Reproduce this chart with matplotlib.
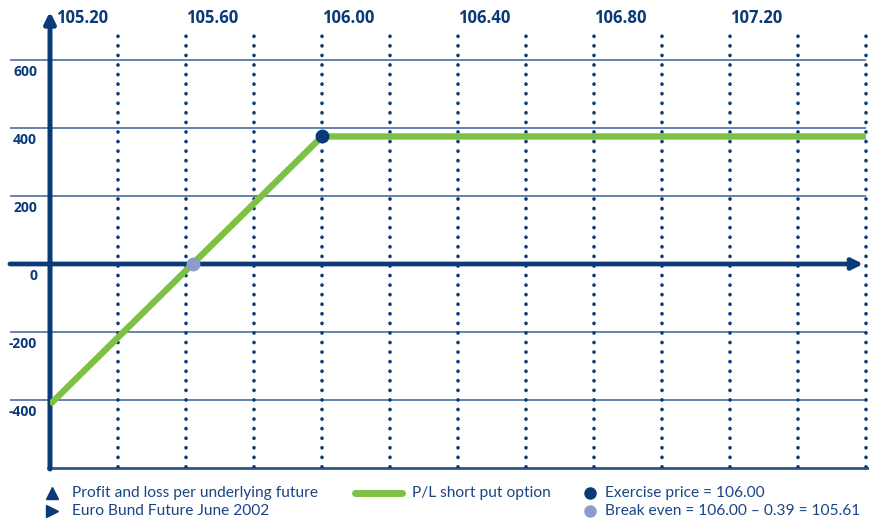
import matplotlib
matplotlib.use("Agg")
import matplotlib.pyplot as plt
from matplotlib.lines import Line2D
import numpy as np

# data
pl_x = [105.20, 106.00, 107.60]
pl_y = [-413, 375, 375]
exercise = (106.00, 375)
break_even = (105.62, 0)
x_ticks = [105.20, 105.60, 106.00, 106.40, 106.80, 107.20]
x_dotted = np.round(np.arange(105.40, 107.61, 0.20), 2)
y_grid = [600, 400, 200, -200, -400]
y_labels = [600, 400, 200, 0, -200, -400]

navy = "#0b3a78"
text_c = "#1a4585"
grid_c = "#5a78a6"
green = "#7bc143"
light = "#8f9cc9"

fig = plt.figure(figsize=(8.69, 5.21), dpi=100)
ax = fig.add_axes([50 / 869, 53 / 521, 819 / 869, 458 / 521])
ax.set_xlim(105.2, 107.609)
ax.set_ylim(-600, 747)
ax.axis("off")

# horizontal grid
ax.hlines(y_grid, 105.082, 107.60, color=grid_c, lw=1.3, clip_on=False, zorder=1)
# bottom frame line
ax.plot([105.195, 107.609], [-600, -600], color="#2d558f", lw=2, clip_on=False, zorder=1)

# dotted verticals
for x in x_dotted:
    ax.plot([x, x], [-598, 691], color=navy, lw=2.6, ls=(0, (0.05, 2.6)),
            dash_capstyle="round", zorder=2)

# axes with arrows
ax.annotate("", xy=(105.2, 742), xytext=(105.2, -603),
            arrowprops=dict(arrowstyle="-|>", lw=3.6, color=navy, mutation_scale=16,
                            shrinkA=0, shrinkB=0), zorder=3, annotation_clip=False)
ax.annotate("", xy=(107.592, 0), xytext=(105.082, 0),
            arrowprops=dict(arrowstyle="-|>", lw=3.4, color=navy, mutation_scale=16,
                            shrinkA=0, shrinkB=0), zorder=3, annotation_clip=False)

# P/L line
ax.plot(pl_x, pl_y, color=green, lw=4.6, solid_capstyle="butt", zorder=4)
ax.plot(*exercise, "o", color=navy, ms=9, zorder=5)
ax.plot(*break_even, "o", color=light, ms=9, zorder=5)

# labels
for i, x in enumerate(x_ticks):
    ax.text(x + (0.018 if i == 0 else 0.0), 723, f"{x:.2f}", color=navy, fontsize=12,
            fontweight="bold", family="Open Sans", ha="left", va="center")
for v in y_labels:
    ax.text(105.162, v - 35, f"{v}", color=navy, fontsize=10, fontweight="bold",
            family="Open Sans", ha="right", va="center", clip_on=False)

# legend
r1, r2 = 1 - 493 / 521, 1 - 511 / 521
fs = 11.2
fam = "Lato"
fig.add_artist(Line2D([0.060], [r1], marker="^", color=navy, ms=8, ls="none"))
fig.text(0.0829, r1, "Profit and loss per underlying future", color=text_c, fontsize=fs,
         family=fam, va="center")
fig.add_artist(Line2D([0.060], [r2], marker=">", color=navy, ms=8, ls="none"))
fig.text(0.0829, r2, "Euro Bund Future June 2002", color=text_c, fontsize=fs, family=fam, va="center")
fig.add_artist(Line2D([0.4085, 0.4626], [r1, r1], color=green, lw=5, solid_capstyle="round"))
fig.text(0.474, r1, "P/L short put option", color=text_c, fontsize=fs, family=fam, va="center")
fig.add_artist(Line2D([0.679], [r1], marker="o", color=navy, ms=8))
fig.text(0.696, r1, "Exercise price = 106.00", color=text_c, fontsize=fs, family=fam, va="center")
fig.add_artist(Line2D([0.679], [r2], marker="o", color=light, ms=8))
fig.text(0.696, r2, "Break even = 106.00 \u2013 0.39 = 105.61", color=text_c, fontsize=fs,
         family=fam, va="center")

fig.savefig("out.png", dpi=100)
